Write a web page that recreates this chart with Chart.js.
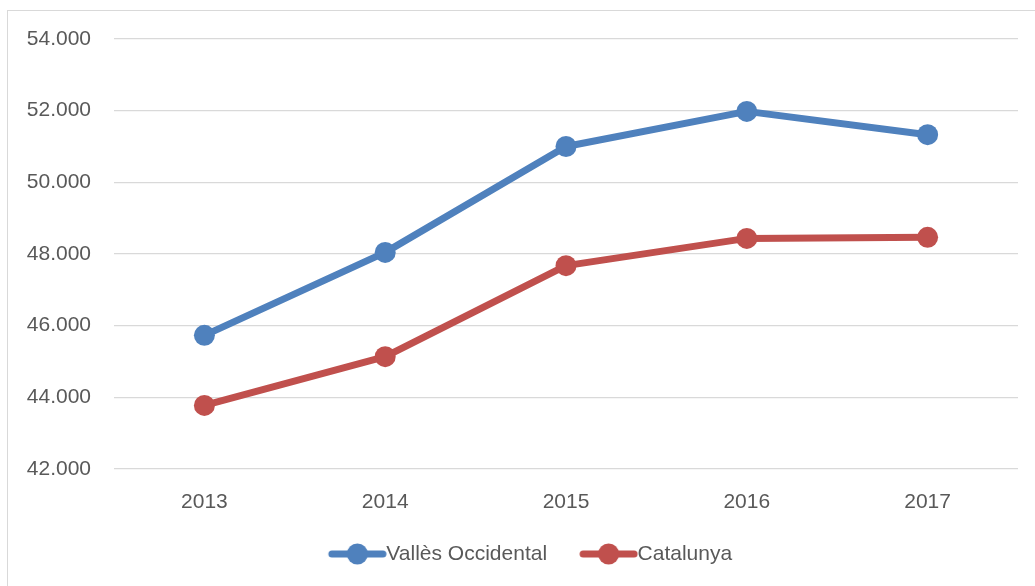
<!DOCTYPE html>
<html>
<head>
<meta charset="utf-8">
<script src="https://cdn.jsdelivr.net/npm/chart.js@4/dist/chart.umd.min.js"></script>
<style>
  html, body { margin: 0; padding: 0; background: #ffffff; overflow: hidden; }
  #frame { position: absolute; left: 7px; top: 10px; width: 1100px; height: 700px;
           border-left: 1px solid #d9d9d9; border-top: 1px solid #d9d9d9; }
  #c { position: absolute; left: 0; top: 0; }
</style>
</head>
<body>
<div id="frame"></div>
<canvas id="c" width="1035" height="586"></canvas>
<script>
// ---- data ----
const categories = ['2013', '2014', '2015', '2016', '2017'];
const seriesNames = ['Vallès Occidental', 'Catalunya'];
const vallesValues = [45730, 48045, 51000, 51980, 51330];
const catalunyaValues = [43775, 45135, 47675, 48435, 48465];
const yTickMin = 42000;
const yTickMax = 54000;
const yTickStep = 2000;

// ---- styles ----
const colors = ['#4F81BD', '#C0504D'];
const fontFamily = '"Liberation Sans", Arial, sans-serif';
const fontSize = 21;
const textColor = '#595959';

function legendImage(color) {
  const W = 92, H = 26;
  const cv = document.createElement('canvas');
  cv.width = W; cv.height = H;
  const g = cv.getContext('2d');
  const a = 33.5;
  g.strokeStyle = color;
  g.lineWidth = 7;
  g.lineCap = 'round';
  g.beginPath();
  g.moveTo(a + 3.5, H / 2);
  g.lineTo(a + 54.5, H / 2);
  g.stroke();
  g.fillStyle = color;
  g.beginPath();
  g.arc(a + 29, H / 2, 10.5, 0, Math.PI * 2);
  g.fill();
  return cv;
}
const legendImages = colors.map(legendImage);

const ctx = document.getElementById('c').getContext('2d');
new Chart(ctx, {
  type: 'line',
  data: {
    labels: categories,
    datasets: [
      { label: seriesNames[0], data: vallesValues },
      { label: seriesNames[1], data: catalunyaValues }
    ].map((d, i) => Object.assign(d, {
      borderColor: colors[i],
      backgroundColor: colors[i],
      borderWidth: 7,
      borderJoinStyle: 'round',
      borderCapStyle: 'round',
      pointRadius: 10.5,
      pointBorderWidth: 0,
      pointBackgroundColor: colors[i],
      pointHoverRadius: 10.5,
      tension: 0,
      fill: false
    }))
  },
  options: {
    responsive: false,
    animation: false,
    devicePixelRatio: 1,
    layout: { padding: { left: 20, right: 17, top: 39, bottom: 11.5 } },
    plugins: {
      title: { display: false },
      tooltip: { enabled: false },
      legend: {
        display: true,
        position: 'bottom',
        align: 'center',
        labels: {
          usePointStyle: true,
          pointStyleWidth: 70,
          padding: 10,
          color: textColor,
          font: { family: fontFamily, size: fontSize },
          generateLabels: (chart) => {
            const items = Chart.defaults.plugins.legend.labels.generateLabels(chart);
            items.forEach((it, i) => { it.pointStyle = legendImages[i]; });
            return items;
          }
        }
      }
    },
    scales: {
      x: {
        offset: true,
        grid: { display: false, drawTicks: false },
        border: { display: false },
        ticks: {
          color: textColor,
          font: { family: fontFamily, size: fontSize },
          padding: 21,
          maxRotation: 0
        },
        afterFit: (s) => { s.height = 64.5; }
      },
      y: {
        min: yTickMin,
        max: yTickMax,
        grid: { color: '#d9d9d9', lineWidth: 1.3, drawTicks: false },
        border: { display: false },
        ticks: {
          stepSize: yTickStep,
          color: textColor,
          font: { family: fontFamily, size: fontSize },
          padding: 23,
          callback: (v) => (v / 1000).toFixed(3)
        },
        afterFit: (s) => { s.width = 94; }
      }
    }
  }
});
</script>
</body>
</html>
